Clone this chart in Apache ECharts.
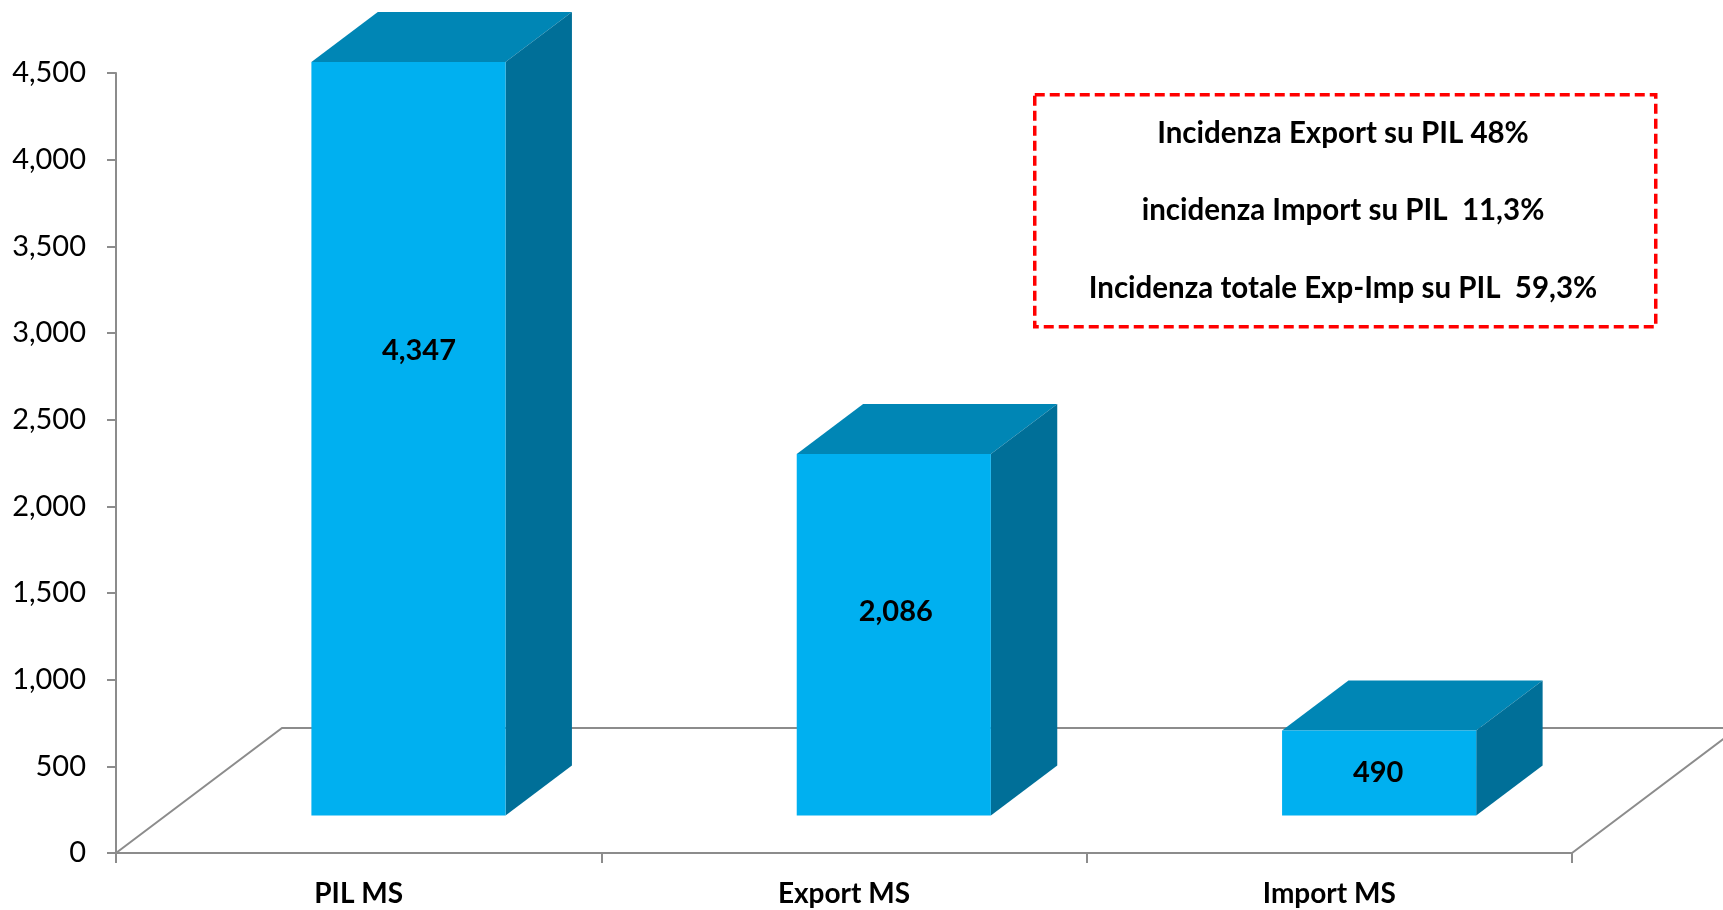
<!DOCTYPE html>
<html>
<head>
<meta charset="utf-8">
<script src="https://cdn.jsdelivr.net/npm/echarts@6/dist/echarts.min.js"></script>
<style>
  html, body { margin: 0; padding: 0; background: #fff; }
  #chart { width: 1723px; height: 910px; }
</style>
</head>
<body>
<div id="chart"></div>
<script>
// dati
const categories = ['PIL MS', 'Export MS', 'Import MS'];
const values = [4347, 2086, 490];
const yMax = 4500;
const yStep = 500;
const notes = [
  'Incidenza Export su PIL 48%',
  'incidenza Import su PIL  11,3%',
  'Incidenza totale Exp-Imp su PIL  59,3%'
];

// finto 3D: vettore profondità del pavimento (px) e posizione delle barre in profondità
const DX = 166, DY = -125;
const F0 = 0.30, F1 = 0.70;
const FONT = 'Lato, "Open Sans", sans-serif';
const GRAY = '#8c8c8c';

const fmt = v => v.toLocaleString('en-US');

const chart = echarts.init(document.getElementById('chart'));

const option = {
  animation: false,
  grid: { left: 116, right: 151, top: 73, bottom: 57 },
  xAxis: {
    type: 'category',
    data: categories,
    boundaryGap: true,
    axisLine: { lineStyle: { color: GRAY, width: 2 } },
    axisTick: { show: true, length: 10, lineStyle: { color: GRAY, width: 2 } },
    axisLabel: {
      margin: 27,
      color: '#000',
      fontFamily: FONT,
      fontWeight: 'bold',
      fontSize: 28
    }
  },
  yAxis: {
    type: 'value',
    min: 0,
    max: yMax,
    interval: yStep,
    axisLine: { show: true, lineStyle: { color: GRAY, width: 2 } },
    axisTick: { show: true, length: 9, lineStyle: { color: GRAY, width: 2 } },
    splitLine: { show: false },
    axisLabel: {
      margin: 30,
      color: '#000',
      fontFamily: FONT,
      fontSize: 29,
      formatter: v => fmt(v)
    }
  },
  series: [
    {
      // pavimento
      type: 'custom',
      z: 1,
      silent: true,
      clip: false,
      data: [[0, 0]],
      renderItem: (params, api) => {
        const cs = params.coordSys;
        const x0 = cs.x, x1 = cs.x + cs.width, y0 = cs.y + cs.height;
        return {
          type: 'polyline',
          shape: { points: [[x0, y0], [x0 + DX, y0 + DY], [x1 + DX, y0 + DY], [x1, y0]] },
          style: { stroke: GRAY, lineWidth: 2, fill: null }
        };
      }
    },
    {
      type: 'custom',
      z: 5,
      clip: false,
      data: values.map((v, i) => [i, v]),
      renderItem: (params, api) => {
        const i = api.value(0), v = api.value(1);
        const base = api.coord([i, 0]);
        const top = api.coord([i, v]);
        const w = api.size([1, 0])[0] * 0.4;
        const ox = DX * F0, oy = DY * F0;
        const ddx = DX * (F1 - F0), ddy = DY * (F1 - F0);
        const l = base[0] - w / 2 + ox, r = l + w;
        const b = base[1] + oy, t = top[1] + oy;
        // etichetta: a 2/3 del valore, ma non sotto il centro della faccia
        const mid = (t + b) / 2;
        const ly = Math.min(api.coord([i, v * 2 / 3])[1], mid);
        return {
          type: 'group',
          children: [
            {
              type: 'polygon',
              shape: { points: [[l, t], [l + ddx, t + ddy], [r + ddx, t + ddy], [r, t]] },
              style: { fill: '#0086B5' }
            },
            {
              type: 'polygon',
              shape: { points: [[r, t], [r + ddx, t + ddy], [r + ddx, b + ddy], [r, b]] },
              style: { fill: '#006F98' }
            },
            {
              type: 'rect',
              shape: { x: l, y: t, width: w, height: b - t },
              style: { fill: '#00B0F0' }
            },
            {
              type: 'text',
              x: (l + r) / 2 + 0.13 * (mid - ly) - 1,
              y: ly,
              style: {
                text: fmt(v),
                fill: '#000',
                font: 'bold 29px ' + FONT,
                align: 'center',
                verticalAlign: 'middle'
              }
            }
          ]
        };
      }
    }
  ],
  graphic: [
    {
      type: 'rect',
      left: 1033,
      top: 93,
      shape: { width: 621, height: 232 },
      style: { fill: '#fff', stroke: '#ff0000', lineWidth: 3.5, lineDash: [10, 5] },
      z: 10
    },
    ...notes.map((t, k) => ({
      type: 'text',
      x: 1343,
      y: 133 + k * 77.5,
      z: 11,
      style: {
        text: t,
        fill: '#000',
        font: 'bold 29.5px ' + FONT,
        align: 'center',
        verticalAlign: 'middle'
      }
    }))
  ]
};

chart.setOption(option);
</script>
</body>
</html>
